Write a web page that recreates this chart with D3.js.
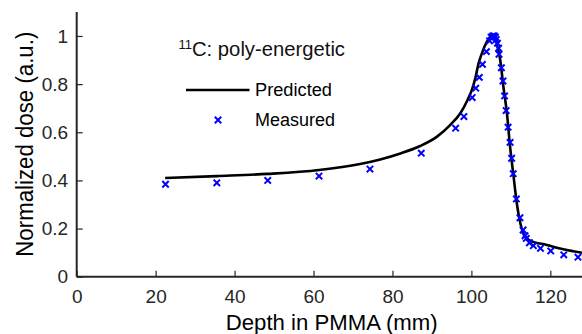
<!DOCTYPE html>
<html><head><meta charset="utf-8">
<script src="https://cdn.jsdelivr.net/npm/d3@7"></script>
<style>body{margin:0;background:#fff}svg{display:block}text{font-family:"Liberation Sans",Arial,sans-serif}</style>
</head><body>
<svg id="chart" width="582" height="334"></svg>
<script>
const measuredX = [22.5,35.5,48.4,61.4,74.3,87.3,96.0,98.1,100.2,101.1,102.0,102.8,103.8,104.6,105.0,105.4,105.8,106.1,106.3,106.6,106.9,107.0,107.6,108.0,108.4,108.8,109.3,109.8,110.2,110.6,111.4,112.3,113.1,113.6,113.9,114.7,115.7,117.5,120.1,123.4,127.0];
const measuredY = [0.384,0.390,0.400,0.418,0.447,0.513,0.617,0.665,0.744,0.783,0.828,0.882,0.935,0.980,0.995,1.0,1.0,0.995,0.985,0.970,0.949,0.924,0.868,0.813,0.751,0.690,0.621,0.558,0.492,0.428,0.323,0.245,0.194,0.170,0.159,0.141,0.129,0.118,0.107,0.091,0.081];
const predictedX = [22.4,35.5,48.4,61.4,71.8,76.9,82.0,87.0,91.3,94.6,97.2,98.9,100.1,101.0,101.8,102.7,103.9,104.6,105.2,106.0,106.7,107.3,108.1,109.0,109.8,110.7,111.5,112.4,113.6,114.9,119.1,123.3,128.5];
const predictedY = [0.410,0.418,0.427,0.443,0.468,0.487,0.512,0.543,0.582,0.630,0.679,0.730,0.775,0.825,0.885,0.930,0.975,0.993,1.003,0.990,0.950,0.900,0.790,0.679,0.540,0.415,0.305,0.222,0.166,0.150,0.132,0.114,0.098];
const xTicks = [0,20,40,60,80,100,120];
const yTicks = [0,0.2,0.4,0.6,0.8,1];
const yTickLabels = ["0","0.2","0.4","0.6","0.8","1"];

const svg = d3.select("#chart");
const x = d3.scaleLinear().domain([0,130]).range([76.7, 76.7 + 130*3.947]);
const y = d3.scaleLinear().domain([0,1.1]).range([276.7, 11.9]);

const axisColor = "#262626";

// x axis
const gx = svg.append("g").attr("transform","translate(0,276.7)")
  .call(d3.axisBottom(x).tickValues(xTicks).tickSize(-6).tickPadding(12.5).tickFormat(d3.format("d")));
gx.select(".domain").attr("d", `M${x(0)},0H582`).attr("stroke",axisColor).attr("stroke-width",2);
gx.selectAll(".tick line").attr("stroke",axisColor).attr("stroke-width",1.2);
gx.selectAll(".tick text").attr("fill",axisColor).style("font-size","19px").style("font-family","'Liberation Sans',Arial,sans-serif");

// y axis
const gy = svg.append("g").attr("transform",`translate(${x(0)},0)`)
  .call(d3.axisLeft(y).tickValues(yTicks).tickSize(-6).tickPadding(8.5).tickFormat((d,i)=>yTickLabels[i]));
gy.select(".domain").attr("d", `M0,${y(1.1)}V${y(0)}`).attr("stroke",axisColor).attr("stroke-width",2);
gy.selectAll(".tick line").attr("stroke",axisColor).attr("stroke-width",1.2);
gy.selectAll(".tick text").attr("fill",axisColor).style("font-size","19px").style("font-family","'Liberation Sans',Arial,sans-serif");

// predicted line
const predicted = predictedX.map((d,i)=>[d,predictedY[i]]);
svg.append("path").datum(predicted)
  .attr("fill","none").attr("stroke","#000").attr("stroke-width",2.6)
  .attr("d", d3.line().x(d=>x(d[0])).y(d=>y(d[1])).curve(d3.curveMonotoneX));

// measured markers
const measured = measuredX.map((d,i)=>[d,measuredY[i]]);
const xm = 3.2;
const crossPath = `M${-xm},${-xm}L${xm},${xm}M${-xm},${xm}L${xm},${-xm}`;
svg.append("g").selectAll("path").data(measured).join("path")
  .attr("transform",d=>`translate(${x(d[0])},${y(d[1])})`)
  .attr("d",crossPath).attr("stroke","#0000ff").attr("stroke-width",2).attr("fill","none");

// title
const t = svg.append("text").attr("x",178.5).attr("y",55.5).attr("fill","#111").style("font-size","20px");
t.append("tspan").text("11").style("font-size","13px").attr("dy","-7");
t.append("tspan").text("C: poly-energetic").attr("dy","7").attr("textLength",153).attr("lengthAdjust","spacingAndGlyphs");

// legend
svg.append("line").attr("x1",186).attr("x2",249.5).attr("y1",90).attr("y2",90).attr("stroke","#000").attr("stroke-width",2.6);
svg.append("text").attr("x",255).attr("y",96).text("Predicted").attr("fill","#000").style("font-size","18px")
  .attr("textLength",77).attr("lengthAdjust","spacingAndGlyphs");
svg.append("path").attr("transform","translate(218,120)").attr("d",crossPath).attr("stroke","#0000ff").attr("stroke-width",2).attr("fill","none");
svg.append("text").attr("x",255).attr("y",125.5).text("Measured").attr("fill","#000").style("font-size","18px")
  .attr("textLength",80).attr("lengthAdjust","spacingAndGlyphs");

// axis labels
svg.append("text").attr("x",331.7).attr("y",329.5).attr("text-anchor","middle").attr("fill","#000")
  .style("font-size","22px").text("Depth in PMMA (mm)").attr("textLength",212).attr("lengthAdjust","spacingAndGlyphs");
svg.append("text").attr("transform","translate(32.5,144.2) rotate(-90)").attr("text-anchor","middle").attr("fill","#000")
  .style("font-size","23px").text("Normalized dose (a.u.)").attr("textLength",225).attr("lengthAdjust","spacingAndGlyphs");
</script>
</body></html>
